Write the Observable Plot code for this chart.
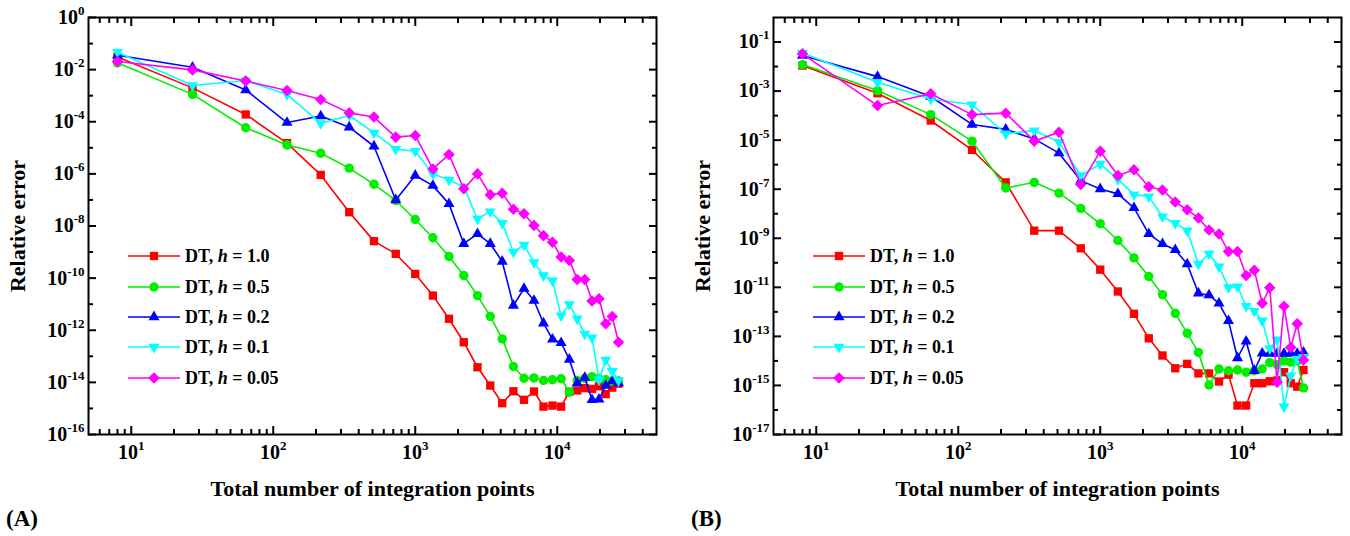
<!DOCTYPE html>
<html><head><meta charset="utf-8">
<script src="https://cdn.jsdelivr.net/npm/d3@7"></script>
<script src="https://cdn.jsdelivr.net/npm/@observablehq/plot@0.6"></script>
<style>
body{margin:0;background:#fff;}
#wrap{position:relative;width:1350px;height:536px;overflow:hidden;font-family:"Liberation Serif","Times New Roman",serif;color:#000;}
.panel{position:absolute;top:0;width:675px;height:536px;}
.panel svg{position:absolute;left:0;top:0;}
.tag{position:absolute;font-weight:bold;font-size:23px;line-height:23px;}
.lg{position:absolute;font-weight:bold;font-size:18px;line-height:20px;white-space:nowrap;}
.lg .row{position:absolute;left:0;height:20px;display:flex;align-items:center;}
.lg svg{position:static;display:block;margin-right:5px;}
svg [aria-label="x-axis label"], svg [aria-label="y-axis label"]{font-size:22px;}
</style></head>
<body><div id="wrap"></div>
<script>
// Total number of integration points (x)
const points = [8,27,64,125,216,343,512,729,1000,1331,1728,2197,2744,3375,4096,4913,5832,6859,8000,9261,10648,12167,13824,15625,17576,19683,21952,24389,27000];
const hLabels = ["1.0","0.5","0.2","0.1","0.05"];
const colors = ["#ff0000","#00ee00","#0000ff","#00ffff","#ff00ff"];

// Panel A: log10(relative error)
const redA = [-1.52,-2.70,-3.72,-4.82,-6.04,-7.47,-8.58,-9.07,-9.84,-10.67,-11.56,-12.46,-13.42,-14.12,-14.80,-14.34,-14.67,-14.35,-14.93,-14.89,-14.93,-14.36,-14.31,-14.22,-14.25,-14.15,-14.45,-14.2,-14.05];
const greenA = [-1.74,-2.95,-4.23,-4.89,-5.21,-5.78,-6.40,-7.02,-7.75,-8.45,-9.17,-9.90,-10.67,-11.47,-12.33,-13.39,-13.84,-13.83,-13.93,-13.9,-13.86,-14.38,-13.93,-13.85,-13.78,-13.85,-13.9,-13.95,-13.95];
const blueA = [-1.45,-1.91,-2.78,-4.03,-3.78,-4.21,-4.94,-7.0,-6.06,-6.45,-7.15,-8.68,-8.30,-8.68,-9.36,-11.05,-10.40,-10.86,-11.73,-12.35,-12.48,-13.12,-14.03,-13.82,-14.67,-14.65,-14.12,-13.95,-14.03];
const cyanA = [-1.33,-2.61,-2.42,-2.95,-4.06,-3.76,-4.43,-5.05,-5.13,-6.0,-6.23,-6.5,-7.73,-7.45,-7.89,-9.0,-8.73,-9.40,-9.90,-10.1,-11.44,-11.01,-11.56,-12.14,-12.29,-13.90,-13.14,-13.57,-13.93];
const magentaA = [-1.69,-2.01,-2.44,-2.80,-3.15,-3.66,-3.82,-4.59,-4.53,-5.81,-5.26,-6.57,-6.0,-6.80,-6.74,-7.36,-7.53,-7.98,-8.37,-8.62,-9.19,-9.32,-10.05,-10.05,-10.88,-10.79,-11.75,-11.47,-12.46];

// Panel B: log10(relative error)
const redB = [-1.96,-3.09,-4.20,-5.40,-6.72,-8.69,-8.69,-9.41,-10.28,-11.17,-12.08,-13.08,-13.78,-14.30,-14.12,-14.51,-14.51,-14.84,-14.56,-15.82,-15.82,-14.91,-14.91,-14.83,-14.80,-14.46,-14.91,-15.05,-14.37];
const greenB = [-1.92,-2.98,-3.96,-5.04,-6.95,-6.72,-7.16,-7.78,-8.41,-9.09,-9.80,-10.56,-11.30,-12.06,-12.87,-13.65,-14.98,-14.33,-14.40,-14.37,-14.46,-14.4,-14.33,-14.06,-14.15,-14.0,-14.05,-14.0,-15.10];
const blueB = [-1.55,-2.41,-3.22,-4.36,-4.56,-4.95,-5.53,-6.65,-6.99,-7.19,-7.76,-8.82,-9.23,-9.47,-10.05,-11.24,-11.32,-11.65,-12.37,-13.88,-13.20,-14.40,-13.69,-13.7,-13.7,-13.7,-13.7,-13.7,-13.65];
const cyanB = [-1.45,-2.64,-3.32,-3.55,-4.74,-4.61,-5.08,-6.44,-5.97,-6.6,-7.22,-7.3,-8.12,-8.39,-8.69,-10.05,-9.64,-10.16,-11.0,-10.97,-11.77,-11.97,-12.36,-13.49,-13.13,-15.87,-14.60,-13.92,-13.85];
const magentaB = [-1.48,-3.59,-3.11,-3.96,-3.90,-5.04,-4.68,-6.81,-5.45,-6.44,-6.21,-6.90,-7.03,-7.52,-7.84,-8.17,-8.66,-8.83,-9.54,-9.54,-10.52,-10.30,-11.65,-11.02,-14.87,-11.77,-13.45,-12.49,-13.96];

// Tick values
const xTicks = [10,100,1000,10000];
const xMinor = [6,7,8,9,20,30,40,50,60,70,80,90,200,300,400,500,600,700,800,900,2000,3000,4000,5000,6000,7000,8000,9000,20000,30000,40000];
const yTicksA = [1e0,1e-2,1e-4,1e-6,1e-8,1e-10,1e-12,1e-14,1e-16];
const yMinorA = [1e-1,1e-3,1e-5,1e-7,1e-9,1e-11,1e-13,1e-15];
const yTicksB = [1e-1,1e-3,1e-5,1e-7,1e-9,1e-11,1e-13,1e-15,1e-17];
const yMinorB = [1e-2,1e-4,1e-6,1e-8,1e-10,1e-12,1e-14,1e-16];

const symbols = ["square","circle","triangle","triangle","diamond2"];
const rotations = [0,0,0,180,0];
const radii = [4.7,4.7,4.1,4.1,5.2];

const fmt = d => "10^" + Math.round(Math.log10(d));

function supify(svg){
  svg.querySelectorAll("text").forEach(t => {
    const m = /^10\^(-?\d+)$/.exec(t.textContent);
    if (!m) return;
    t.textContent = "10";
    const s = document.createElementNS("http://www.w3.org/2000/svg","tspan");
    s.setAttribute("dy","-9");
    s.setAttribute("font-size","13");
    s.textContent = m[1];
    t.appendChild(s);
  });
}

function makePanel(cfg){
  const data = [];
  cfg.series.forEach((arr,i) => arr.forEach((e,j) => data.push({s:i, x:points[j], y:Math.pow(10,e)})));
  const marks = [];
  cfg.series.forEach((arr,i) => {
    const d = data.filter(r => r.s === i);
    marks.push(Plot.line(d,{x:"x",y:"y",stroke:colors[i],strokeWidth:1.6}));
    marks.push(Plot.dot(d,{x:"x",y:"y",symbol:symbols[i],r:radii[i],fill:colors[i],stroke:"none",rotate:rotations[i]}));
  });
  // tick labels + titles
  marks.push(Plot.axisY({anchor:"left",ticks:cfg.yTicks,tickSize:0,tickPadding:4,tickFormat:fmt,fontSize:20,label:"Relative error",labelAnchor:"center",labelOffset:79,labelArrow:"none"}));
  marks.push(Plot.axisX({anchor:"bottom",ticks:xTicks,tickSize:0,tickPadding:10,tickFormat:fmt,fontSize:20,label:"Total number of integration points",labelAnchor:"center",labelOffset:61,labelArrow:"none"}));
  // inward ticks
  const tk = (fn, anchor, ticks, size) => {
    const o = {anchor, ticks, tickSize:size, fill:"none", strokeWidth:2, stroke:"black"};
    if (anchor==="left") o.dx = size;
    if (anchor==="right") o.dx = -size;
    if (anchor==="bottom") o.dy = -size;
    if (anchor==="top") o.dy = size;
    return fn(o);
  };
  for (const a of ["left","right"]) {
    marks.push(tk(Plot.axisY, a, cfg.yTicks, 8));
    marks.push(tk(Plot.axisY, a, cfg.yMinor, 5));
  }
  for (const a of ["bottom","top"]) {
    marks.push(tk(Plot.axisX, a, xTicks, 8));
    marks.push(tk(Plot.axisX, a, xMinor, 5));
  }
  marks.push(Plot.frame({stroke:"black",strokeWidth:2}));
  const svg = Plot.plot({
    width:675, height:536,
    marginLeft:cfg.marginLeft, marginRight:cfg.marginRight, marginTop:17, marginBottom:102,
    x:{type:"log",domain:[5,5e4]},
    y:{type:"log",domain:cfg.yDomain},
    style:{fontFamily:"'Liberation Serif','Times New Roman',serif",fontWeight:"bold",color:"black",background:"transparent",overflow:"visible"},
    marks
  });
  supify(svg);
  const div = document.createElement("div");
  div.className = "panel";
  div.style.left = cfg.left + "px";
  div.appendChild(svg);

  // legend
  const lg = document.createElement("div");
  lg.className = "lg";
  lg.style.left = cfg.legendLeft + "px";
  lg.style.top = "0px";
  const rowCenters = [255.5,286.5,316.5,347,377.5];
  hLabels.forEach((h,i) => {
    const row = document.createElement("div");
    row.className = "row";
    row.style.top = (rowCenters[i]-10) + "px";
    const ns = "http://www.w3.org/2000/svg";
    const s = document.createElementNS(ns,"svg");
    s.setAttribute("width","52"); s.setAttribute("height","20");
    const ln = document.createElementNS(ns,"line");
    ln.setAttribute("x1","0"); ln.setAttribute("x2","52"); ln.setAttribute("y1","10"); ln.setAttribute("y2","10");
    ln.setAttribute("stroke",colors[i]); ln.setAttribute("stroke-width","1.6");
    s.appendChild(ln);
    const typeMap = {square:d3.symbolSquare,circle:d3.symbolCircle,triangle:d3.symbolTriangle,diamond2:d3.symbolDiamond2};
    const p = document.createElementNS(ns,"path");
    p.setAttribute("d", d3.symbol(typeMap[symbols[i]], Math.PI*radii[i]*radii[i])());
    p.setAttribute("fill",colors[i]);
    p.setAttribute("transform",`translate(26,10) rotate(${rotations[i]})`);
    s.appendChild(p);
    row.appendChild(s);
    const tx = document.createElement("span");
    tx.innerHTML = `DT, <i>h</i> = ${h}`;
    row.appendChild(tx);
    lg.appendChild(row);
  });
  div.appendChild(lg);

  const tag = document.createElement("div");
  tag.className = "tag";
  tag.style.left = cfg.tagLeft + "px";
  tag.style.top = "507px";
  tag.textContent = cfg.tag;
  div.appendChild(tag);
  document.getElementById("wrap").appendChild(div);
}

makePanel({left:0, marginLeft:88, marginRight:19, yDomain:[1e-16,1], yTicks:yTicksA, yMinor:yMinorA,
  series:[redA,greenA,blueA,cyanA,magentaA], legendLeft:128, tag:"(A)", tagLeft:6});
makePanel({left:675, marginLeft:98, marginRight:9, yDomain:[1e-17,1], yTicks:yTicksB, yMinor:yMinorB,
  series:[redB,greenB,blueB,cyanB,magentaB], legendLeft:138, tag:"(B)", tagLeft:16});
</script>
</body></html>
